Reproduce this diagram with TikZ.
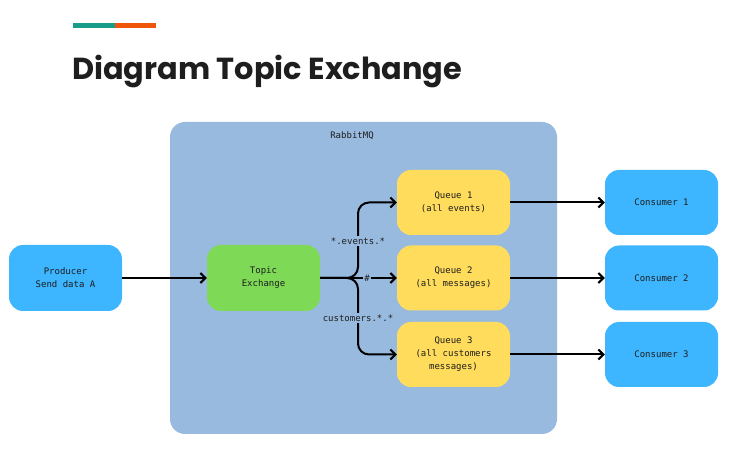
\documentclass[tikz,border=0pt]{standalone}
\usepackage{fontspec}
\setmonofont{DejaVu Sans Mono}
\newfontfamily\titlefont{Poppins}
\usetikzlibrary{arrows.meta}

\begin{document}
\begin{tikzpicture}[x=1pt,y=-1pt,
  box/.style={rounded corners=14pt,minimum width=113pt,minimum height=66pt,align=center,text=ink,font=\ttfamily\fontsize{9}{13}\selectfont},
  arr/.style={line width=2pt,-{Straight Barb[length=5pt,width=10pt,line width=2pt]}},
  tag/.style={fill=rabbit,inner sep=1.5pt,text=ink,font=\ttfamily\fontsize{9}{10}\selectfont}]
\definecolor{ink}{HTML}{1E1E1E}
\definecolor{rabbit}{HTML}{98BADF}
\definecolor{sky}{HTML}{3DB5FF}
\definecolor{leaf}{HTML}{7ED957}
\definecolor{butter}{HTML}{FFDC5C}
\definecolor{teal}{HTML}{1A9C8A}
\definecolor{ember}{HTML}{F0560A}
\useasboundingbox (0,0) rectangle (753,454);
% heading
\fill[teal] (73,23) rectangle (115,28);
\fill[ember] (115,23) rectangle (156,28);
\node[anchor=base west,inner sep=0,text=ink,font=\titlefont\bfseries\fontsize{30.4}{31}\selectfont] (title) at (72,80) {Diagram Topic Exchange};
% broker
\fill[rabbit,rounded corners=15pt] (170,122) rectangle (557,434);
\node[text=ink,font=\ttfamily\fontsize{9}{10}\selectfont] (rabbitmq) at (352,136) {RabbitMQ};
\node [box,fill=sky] (producer) at (65.5,278) {Producer\\Send data A};
\node [box,fill=leaf] (exch) at (263.5,278) {Topic\\Exchange};
\foreach \i/\txt/\ypos in {1/{Queue 1\\(all events)}/202.5,2/{Queue 2\\(all messages)}/278,3/{Queue 3\\(all customers\\messages)}/354.5}
{ \node [box,fill=butter,minimum height=65pt] (q\i) at (453.5,\ypos) {\txt};
  \node [box,fill=sky,minimum height=65pt] (cons\i) at (661.5,\ypos) {Consumer \i};
  \draw [arr] (q\i.east) -- (cons\i.west);}
\coordinate (split) at (358,278);
\draw [arr] (producer.east) -- (exch.west);
\draw [arr] (exch.east) -- (q2.west);
\draw [arr,rounded corners=11pt] (exch.east) -| (split |- q1.west) -- (q1.west);
\draw [arr,rounded corners=11pt] (exch.east) -| (split |- q3.west) -- (q3.west);
\node [tag] (evt) at (358,241) {*.events.*};
\node [tag] (hash) at (367,278) {\#};
\node [tag] (cust) at (358,318) {customers.*.*};
\end{tikzpicture}
\end{document}
